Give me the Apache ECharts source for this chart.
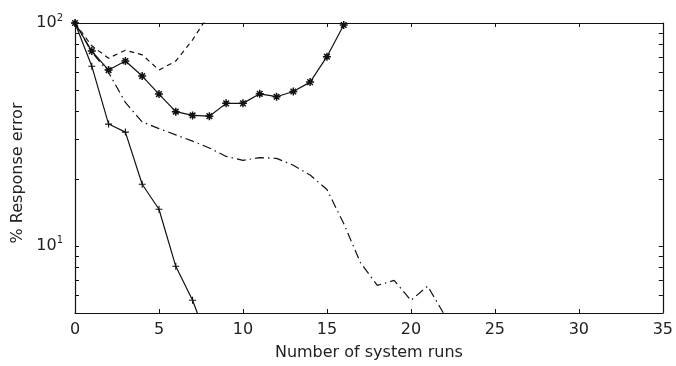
<!DOCTYPE html>
<html>
<head>
<meta charset="utf-8">
<script src="https://cdn.jsdelivr.net/npm/echarts@6/dist/echarts.min.js"></script>
<style>
  html, body { margin: 0; padding: 0; background: #fff; }
  #chart { width: 676px; height: 366px; }
</style>
</head>
<body>
<div id="chart"></div>
<script>
// Response error (%) after each system run, four update strategies
const runsPlus   = [0, 1, 2, 3, 4, 5, 6, 7, 8];
const errPlus    = [100, 64, 35.2, 32.4, 18.9, 14.6, 8.1, 5.7, 3.6];

const runsStar   = [0, 1, 2, 3, 4, 5, 6, 7, 8, 9, 10, 11, 12, 13, 14, 15, 16];
const errStar    = [100, 74.8, 61.5, 67.5, 57.8, 48, 40, 38.5, 38.2, 43.6, 43.6, 48.1, 46.7, 49.3, 54.3, 70.6, 98];

const runsDash   = [0, 1, 2, 3, 4, 5, 6, 7, 8];
const errDash    = [100, 79, 69.5, 75.5, 72, 61.5, 67.5, 84, 110];

const runsDashDot = [0, 1, 2, 3, 4, 5, 6, 7, 8, 9, 10, 11, 12, 13, 14, 15, 16, 17, 18, 19, 20, 21, 22];
const errDashDot  = [100, 74, 60, 44, 36, 33.6, 31.5, 29.5, 27.5, 25.2, 24.2, 24.9, 24.7, 23, 20.8, 17.9, 12.6, 8.4, 6.65, 7.0, 5.7, 6.6, 4.9];

const xTicks = [0, 5, 10, 15, 20, 25, 30, 35];
const yMajor = [10, 100];
const yMinor = [5, 6, 7, 8, 9, 10, 20, 30, 40, 50, 60, 70, 80, 90, 100];

const FONT = 'DejaVu Sans';
const INK = '#111';
const pairs = (xs, ys) => xs.map((x, i) => [x, ys[i]]);

const plusPath = 'path://M0,-1L0,1M-1,0L1,0';
const starPath = 'path://M-1,0L1,0M0,-1L0,1M-0.7,-0.7L0.7,0.7M-0.7,0.7L0.7,-0.7';

const baseLine = { color: INK, width: 1.2 };

const chart = echarts.init(document.getElementById('chart'), null, { renderer: 'canvas' });

chart.setOption({
  animation: false,
  backgroundColor: '#fff',
  grid: { left: 75, right: 11, top: 23, bottom: 53, containLabel: false },
  xAxis: [
    {
      type: 'value', position: 'bottom', min: 0, max: 35, interval: 5,
      name: 'Number of system runs', nameLocation: 'middle', nameGap: 32,
      nameTextStyle: { fontFamily: FONT, fontSize: 16, color: '#222' },
      axisLine: { show: true, onZero: false, lineStyle: { color: INK, width: 1.2 } },
      axisTick: { show: true, inside: true, length: 4, customValues: xTicks, lineStyle: { color: INK } },
      axisLabel: { margin: 9, fontFamily: FONT, fontSize: 16, color: '#222', customValues: xTicks },
      splitLine: { show: false }
    },
    {
      type: 'value', position: 'top', min: 0, max: 35, interval: 5,
      axisLine: { show: true, onZero: false, lineStyle: { color: INK, width: 1.2 } },
      axisTick: { show: true, inside: true, length: 4, lineStyle: { color: INK } },
      axisLabel: { show: false },
      splitLine: { show: false }
    }
  ],
  yAxis: [
    {
      type: 'log', logBase: 10, position: 'left', min: 5, max: 100,
      name: '% Response error', nameLocation: 'middle', nameGap: 48, nameRotate: 90,
      nameTextStyle: { fontFamily: FONT, fontSize: 16, color: '#222', padding: [0, 10, 0, 0] },
      axisLine: { show: true, onZero: false, lineStyle: { color: INK, width: 1.2 } },
      axisTick: { show: true, inside: true, length: 4, customValues: yMinor, lineStyle: { color: INK } },
      axisLabel: {
        customValues: yMajor, margin: 12,
        formatter: v => '{b|10}{s|' + Math.round(Math.log10(v)) + '}',
        rich: {
          b: { fontFamily: FONT, fontSize: 16, color: '#222', lineHeight: 20 },
          s: { fontFamily: FONT, fontSize: 10, color: '#222', verticalAlign: 'top', lineHeight: 10 }
        }
      },
      splitLine: { show: false }
    },
    {
      type: 'log', logBase: 10, position: 'right', min: 5, max: 100,
      axisLine: { show: true, onZero: false, lineStyle: { color: INK, width: 1.2 } },
      axisTick: { show: true, inside: true, length: 4, customValues: yMinor, lineStyle: { color: INK } },
      axisLabel: { show: false },
      splitLine: { show: false }
    }
  ],
  series: [
    {
      name: 'plus', type: 'line', data: pairs(runsPlus, errPlus),
      symbol: plusPath, symbolSize: 7, showSymbol: true,
      itemStyle: { color: 'none', borderColor: INK, borderWidth: 1.1 },
      lineStyle: Object.assign({ type: 'solid' }, baseLine), clip: true
    },
    {
      name: 'star', type: 'line', data: pairs(runsStar, errStar),
      symbol: starPath, symbolSize: 8, showSymbol: true,
      itemStyle: { color: 'none', borderColor: INK, borderWidth: 1.5 },
      lineStyle: Object.assign({ type: 'solid' }, baseLine), clip: true
    },
    {
      name: 'dashed', type: 'line', data: pairs(runsDash, errDash),
      showSymbol: false, symbol: 'none',
      lineStyle: Object.assign({ type: [5, 4] }, baseLine), clip: true
    },
    {
      name: 'dashdot', type: 'line', data: pairs(runsDashDot, errDashDot),
      showSymbol: false, symbol: 'none',
      lineStyle: Object.assign({ type: [9, 4, 1.5, 4] }, baseLine), clip: true
    }
  ]
});
</script>
</body>
</html>
